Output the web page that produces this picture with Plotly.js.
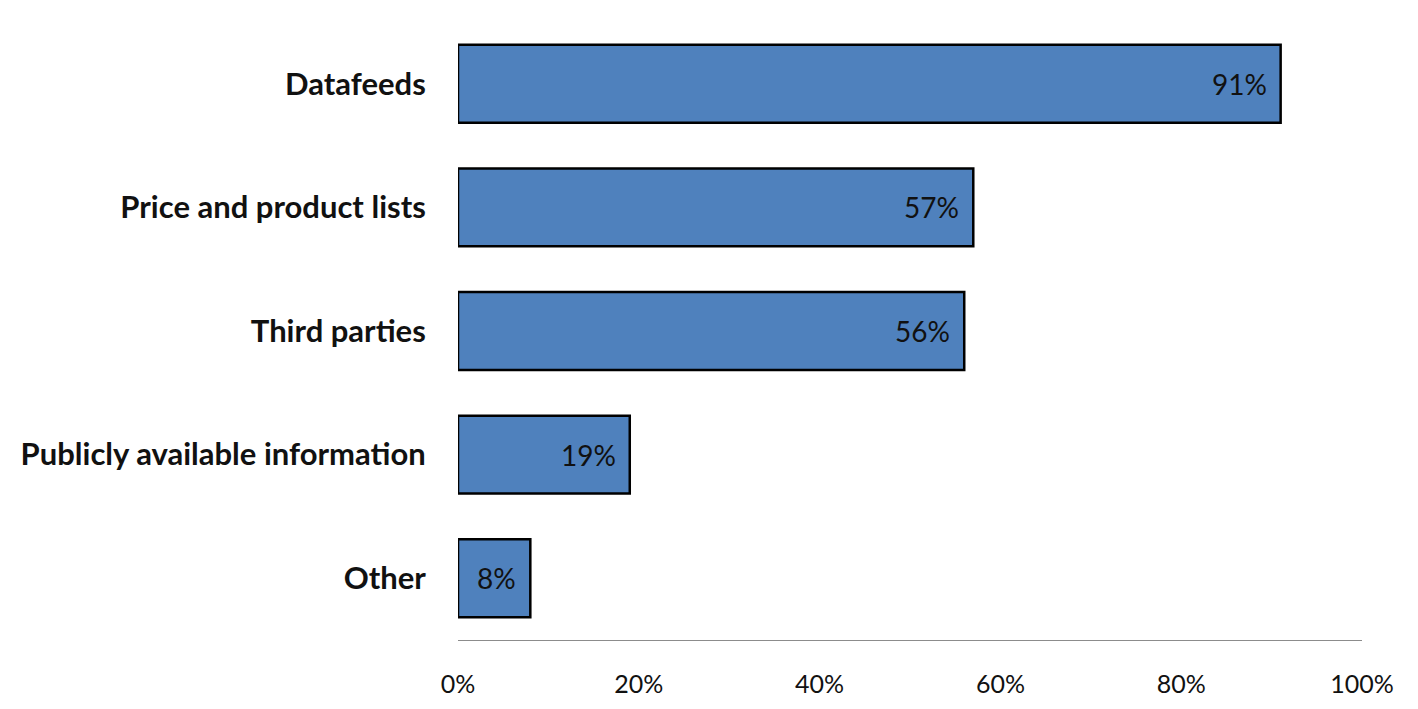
<!DOCTYPE html>
<html><head><meta charset="utf-8">
<script src="https://cdn.plot.ly/plotly-3.0.1.min.js"></script>
<style>html,body{margin:0;padding:0;background:#fff;}#chart{width:1418px;height:709px;}</style>
</head><body><div id="chart"></div>
<script>
const categories = ["Datafeeds", "Price and product lists", "Third parties", "Publicly available information", "Other"];
const values = [91, 57, 56, 19, 8];
const tickVals = [0, 20, 40, 60, 80, 100];
const tickLabels = ["0%", "20%", "40%", "60%", "80%", "100%"];

const FONT = "Lato, 'Open Sans', sans-serif";

const trace = {
  type: "bar",
  orientation: "h",
  x: values,
  y: categories,
  width: 0.63,
  marker: { color: "#4F81BD", line: { color: "#000", width: 2.5 } },
  hoverinfo: "none"
};

const annotations = values.map((v, i) => ({
  x: v, y: categories[i], xref: "x", yref: "y",
  text: v + "%", showarrow: false, xanchor: "right", xshift: -12,
  font: { family: FONT, size: 28, color: "#111" }
}));

const layout = {
  width: 1418, height: 709,
  margin: { l: 458, r: 56, t: 22, b: 69 },
  paper_bgcolor: "#fff", plot_bgcolor: "#fff",
  showlegend: false,
  bargap: 0.37,
  xaxis: {
    range: [0, 100], tickvals: tickVals, ticktext: tickLabels,
    showgrid: false, zeroline: false,
    showline: true, linecolor: "#8c8c8c", linewidth: 1,
    ticks: "outside", ticklen: 22, tickcolor: "rgba(0,0,0,0)",
    tickfont: { family: FONT, size: 25, color: "#111" },
    fixedrange: true
  },
  yaxis: {
    categoryorder: "array", categoryarray: categories.slice().reverse(),
    showgrid: false, zeroline: false, showline: false,
    ticks: "outside", ticklen: 25, tickcolor: "rgba(0,0,0,0)",
    tickfont: { family: FONT, size: 31, color: "#111", weight: "bold" },
    fixedrange: true
  },
  annotations: annotations
};

Plotly.newPlot("chart", [trace], layout, { displayModeBar: false, staticPlot: true });
</script></body></html>
